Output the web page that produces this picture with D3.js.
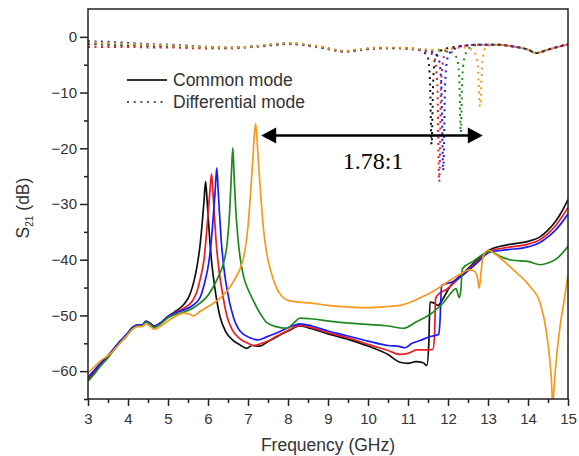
<!DOCTYPE html>
<html lang="en">
<head>
    <meta charset="UTF-8">
    <title>S21 Common / Differential mode</title>
    <script src="https://d3js.org/d3.v7.min.js"></script>
    <style>
        body { margin: 0; background: #fff; }
        text { font-family: "Liberation Sans", Arial, sans-serif; }
    </style>
</head>
<body>
    <svg width="579" height="456"></svg>
    <script type="text/javascript">
        // axis ticks
        var xTicks = [3, 4, 5, 6, 7, 8, 9, 10, 11, 12, 13, 14, 15];
        var yTicks = [0, -10, -20, -30, -40, -50, -60];

        // common mode S21 (solid lines), [GHz, dB]
        var commonBlack = [[3.0,-61.6],[3.15,-60.3],[3.3,-59.0],[3.5,-57.4],[3.65,-56.1],[3.8,-54.8],[3.95,-53.8],[4.1,-52.4],[4.25,-51.8],[4.35,-51.9],[4.45,-51.1],[4.55,-51.4],[4.65,-52.0],[4.8,-51.4],[5.0,-50.2],[5.2,-49.2],[5.4,-48.0],[5.55,-46.2],[5.65,-43.8],[5.73,-41.0],[5.8,-37.5],[5.86,-33.0],[5.9,-29.5],[5.94,-26.0],[5.97,-28.5],[6.01,-33.0],[6.05,-37.0],[6.1,-41.0],[6.18,-45.5],[6.3,-50.2],[6.45,-53.0],[6.63,-54.5],[6.8,-55.3],[6.97,-55.9],[7.1,-55.4],[7.3,-55.5],[7.5,-54.7],[7.7,-53.9],[8.0,-52.8],[8.3,-51.9],[8.6,-52.4],[9.0,-53.3],[9.5,-54.3],[10.0,-55.5],[10.5,-57.0],[10.8,-58.4],[11.0,-58.6],[11.2,-58.3],[11.38,-58.5],[11.47,-59.0],[11.52,-55.0],[11.55,-47.6],[11.63,-47.7],[11.75,-48.2],[11.85,-47.3],[12.05,-44.8],[12.38,-42.4],[12.72,-40.1],[13.05,-38.2],[13.5,-37.3],[14.0,-36.7],[14.3,-35.9],[14.5,-34.7],[14.7,-33.0],[14.85,-31.3],[15.0,-29.2]];
        var commonRed = [[3.0,-61.3],[3.15,-60.0],[3.3,-58.8],[3.5,-57.2],[3.65,-56.0],[3.8,-54.7],[3.95,-53.6],[4.1,-52.3],[4.25,-51.7],[4.35,-51.8],[4.45,-51.1],[4.55,-51.5],[4.65,-52.0],[4.8,-51.5],[5.0,-50.3],[5.2,-49.4],[5.4,-48.7],[5.6,-47.5],[5.72,-45.8],[5.82,-43.0],[5.9,-40.0],[5.96,-35.5],[6.01,-31.0],[6.05,-27.5],[6.09,-24.6],[6.12,-27.5],[6.16,-32.0],[6.2,-36.5],[6.26,-41.0],[6.35,-45.5],[6.47,-50.0],[6.6,-52.5],[6.8,-54.2],[6.97,-54.9],[7.15,-55.4],[7.35,-55.0],[7.5,-54.6],[7.7,-53.8],[8.0,-52.7],[8.3,-51.8],[8.6,-52.2],[9.0,-53.1],[9.5,-54.0],[10.0,-55.2],[10.5,-56.3],[10.8,-57.0],[11.0,-56.8],[11.22,-56.2],[11.45,-56.2],[11.62,-56.1],[11.66,-54.0],[11.69,-47.0],[11.75,-46.3],[11.97,-45.3],[12.38,-42.6],[12.72,-40.4],[13.05,-38.4],[13.5,-37.8],[14.0,-37.2],[14.3,-36.4],[14.5,-35.3],[14.7,-33.8],[14.85,-32.3],[15.0,-30.6]];
        var commonBlue = [[3.0,-61.1],[3.15,-59.9],[3.3,-58.7],[3.5,-57.2],[3.65,-55.9],[3.8,-54.6],[3.95,-53.5],[4.1,-52.2],[4.25,-51.7],[4.35,-51.7],[4.45,-51.0],[4.55,-51.4],[4.65,-51.9],[4.8,-51.4],[5.0,-50.2],[5.2,-49.5],[5.4,-49.0],[5.6,-48.3],[5.8,-46.8],[5.92,-44.0],[6.02,-40.5],[6.09,-36.0],[6.14,-31.5],[6.18,-27.5],[6.22,-23.5],[6.25,-27.0],[6.29,-32.0],[6.33,-36.5],[6.39,-41.0],[6.48,-45.5],[6.63,-50.2],[6.8,-52.8],[7.05,-54.0],[7.25,-54.4],[7.45,-53.9],[7.7,-53.2],[8.0,-52.2],[8.3,-51.5],[8.6,-51.9],[9.0,-52.8],[9.5,-53.7],[10.0,-54.6],[10.5,-55.4],[10.8,-55.6],[10.92,-55.8],[11.1,-55.0],[11.3,-54.5],[11.55,-53.8],[11.77,-53.4],[11.8,-51.0],[11.84,-44.6],[11.95,-44.3],[12.13,-43.9],[12.38,-42.7],[12.72,-40.6],[13.05,-38.6],[13.5,-38.2],[14.0,-37.7],[14.3,-36.9],[14.5,-35.9],[14.7,-34.6],[14.85,-33.3],[15.0,-31.8]];
        var commonGreen = [[3.0,-61.8],[3.15,-60.6],[3.3,-59.2],[3.5,-57.6],[3.65,-56.2],[3.8,-54.9],[3.95,-53.8],[4.1,-52.4],[4.25,-51.9],[4.35,-51.9],[4.45,-51.2],[4.55,-51.6],[4.65,-52.2],[4.8,-51.6],[5.0,-50.4],[5.2,-49.8],[5.4,-49.4],[5.6,-48.8],[5.8,-47.8],[6.0,-46.4],[6.13,-44.9],[6.28,-42.7],[6.4,-40.3],[6.48,-37.0],[6.54,-31.5],[6.58,-25.5],[6.62,-19.9],[6.65,-24.5],[6.69,-30.5],[6.74,-35.5],[6.8,-39.5],[6.9,-43.3],[7.0,-45.3],[7.13,-47.3],[7.3,-49.6],[7.47,-51.3],[7.7,-52.0],[7.97,-52.3],[8.15,-51.3],[8.3,-50.5],[8.55,-50.6],[9.13,-51.1],[9.97,-51.6],[10.5,-51.9],[10.88,-52.3],[11.2,-51.2],[11.63,-49.4],[11.9,-47.6],[12.05,-46.2],[12.2,-45.2],[12.28,-46.8],[12.32,-45.5],[12.36,-41.6],[12.63,-40.3],[12.93,-38.8],[13.05,-38.5],[13.3,-39.4],[13.6,-40.1],[14.0,-40.3],[14.3,-40.9],[14.5,-40.6],[14.7,-39.9],[14.85,-38.9],[15.0,-37.6]];
        var commonOrange = [[3.0,-60.3],[3.15,-59.3],[3.3,-58.2],[3.5,-57.2],[3.65,-56.2],[3.8,-55.0],[3.95,-53.8],[4.1,-52.6],[4.25,-52.0],[4.35,-52.0],[4.45,-51.5],[4.55,-51.9],[4.65,-52.5],[4.8,-52.0],[5.0,-51.0],[5.2,-50.1],[5.4,-49.6],[5.55,-49.8],[5.63,-50.1],[5.8,-49.3],[6.0,-48.4],[6.2,-47.5],[6.4,-46.2],[6.55,-44.9],[6.7,-43.1],[6.82,-41.3],[6.92,-38.5],[7.0,-34.0],[7.06,-28.5],[7.12,-22.0],[7.16,-17.5],[7.19,-15.6],[7.22,-17.8],[7.26,-22.5],[7.32,-28.5],[7.38,-34.0],[7.46,-38.5],[7.58,-42.3],[7.72,-45.2],[7.85,-46.6],[8.05,-47.4],[8.3,-47.6],[8.6,-47.8],[9.0,-48.2],[9.55,-48.5],[10.0,-48.6],[10.5,-48.4],[10.8,-48.2],[11.1,-47.5],[11.4,-46.5],[11.6,-45.8],[12.05,-43.7],[12.3,-42.6],[12.55,-41.8],[12.68,-42.2],[12.74,-43.4],[12.78,-45.1],[12.82,-42.8],[12.87,-39.6],[13.0,-38.3],[13.2,-39.1],[13.63,-41.8],[14.05,-44.8],[14.3,-47.7],[14.45,-52.5],[14.53,-57.0],[14.58,-61.0],[14.62,-66.0],[14.66,-62.0],[14.72,-57.0],[14.8,-52.0],[14.9,-47.5],[15.0,-42.7]];

        // differential mode S21 (dotted lines), [GHz, dB]
        var diffBlack = [[3.0,-1.3],[3.5,-1.4],[4.0,-1.5],[4.5,-1.6],[5.0,-1.7],[5.5,-1.8],[6.0,-1.9],[6.5,-2.0],[7.0,-1.8],[7.5,-1.5],[8.0,-1.2],[8.5,-1.5],[9.0,-2.1],[9.4,-2.6],[9.8,-2.3],[10.3,-2.0],[10.8,-2.0],[11.2,-2.2],[11.4,-2.8],[11.5,-3.8],[11.55,-8.0],[11.59,-19.3],[11.63,-8.0],[11.68,-3.8],[11.8,-2.6],[12.0,-2.0],[12.4,-1.6],[12.8,-1.4],[13.2,-1.4],[13.6,-1.7],[14.0,-2.3],[14.2,-2.9],[14.5,-2.3],[14.8,-1.7],[15.0,-1.3]];
        var diffRed = [[3.0,-1.8],[3.5,-1.8],[4.0,-1.8],[4.5,-1.9],[5.0,-1.9],[5.5,-2.0],[6.0,-2.1],[6.5,-2.1],[7.0,-1.9],[7.5,-1.6],[8.0,-1.3],[8.5,-1.6],[9.0,-2.2],[9.4,-2.7],[9.8,-2.4],[10.3,-2.1],[10.8,-2.1],[11.2,-2.3],[11.5,-2.7],[11.65,-3.6],[11.73,-8.0],[11.78,-26.0],[11.83,-8.0],[11.9,-3.5],[12.05,-2.3],[12.4,-1.6],[12.8,-1.4],[13.2,-1.4],[13.6,-1.7],[14.0,-2.3],[14.2,-2.9],[14.5,-2.3],[14.8,-1.7],[15.0,-1.4]];
        var diffBlue = [[3.0,-0.8],[3.5,-0.9],[4.0,-1.1],[4.5,-1.3],[5.0,-1.4],[5.5,-1.6],[6.0,-1.8],[6.5,-1.9],[7.0,-1.8],[7.5,-1.5],[8.0,-1.2],[8.5,-1.5],[9.0,-2.1],[9.4,-2.6],[9.8,-2.3],[10.3,-2.0],[10.8,-2.0],[11.2,-2.2],[11.5,-2.5],[11.75,-3.5],[11.83,-8.0],[11.88,-24.0],[11.93,-8.0],[12.0,-3.5],[12.15,-2.2],[12.4,-1.6],[12.8,-1.4],[13.2,-1.4],[13.6,-1.7],[14.0,-2.3],[14.2,-2.9],[14.5,-2.3],[14.8,-1.7],[15.0,-1.3]];
        var diffGreen = [[3.0,-1.2],[3.5,-1.3],[4.0,-1.4],[4.5,-1.5],[5.0,-1.6],[5.5,-1.8],[6.0,-1.9],[6.5,-2.0],[7.0,-1.8],[7.5,-1.5],[8.0,-1.2],[8.5,-1.5],[9.0,-2.1],[9.4,-2.6],[9.8,-2.3],[10.3,-2.0],[10.8,-2.0],[11.2,-2.2],[11.6,-2.4],[11.9,-2.5],[12.1,-2.8],[12.22,-3.8],[12.28,-7.0],[12.32,-17.2],[12.36,-7.0],[12.42,-3.5],[12.55,-1.9],[12.8,-1.4],[13.2,-1.4],[13.6,-1.7],[14.0,-2.3],[14.2,-2.9],[14.5,-2.3],[14.8,-1.7],[15.0,-1.3]];
        var diffOrange = [[3.0,-1.0],[3.5,-1.1],[4.0,-1.3],[4.5,-1.4],[5.0,-1.5],[5.5,-1.7],[6.0,-1.8],[6.5,-1.9],[7.0,-1.8],[7.5,-1.4],[8.0,-1.1],[8.5,-1.4],[9.0,-2.0],[9.4,-2.5],[9.8,-2.2],[10.3,-1.9],[10.8,-1.9],[11.2,-2.1],[11.6,-2.3],[12.0,-2.2],[12.4,-1.9],[12.62,-2.4],[12.74,-4.5],[12.8,-12.5],[12.86,-4.5],[12.95,-1.8],[13.2,-1.4],[13.6,-1.7],[14.0,-2.3],[14.2,-2.9],[14.5,-2.3],[14.8,-1.7],[15.0,-1.3]];

        // resonance ratio annotation: arrow ends [GHz], arrow level [dB]
        var arrowSpan = [7.33, 12.87];
        var arrowLevel = -17.7;
        var ratioLabel = "1.78:1";

        var series = [
            {common: commonBlack, diff: diffBlack, color: "#111111"},
            {common: commonRed, diff: diffRed, color: "#ee1c25"},
            {common: commonBlue, diff: diffBlue, color: "#1a1aff"},
            {common: commonGreen, diff: diffGreen, color: "#1e8a1e"},
            {common: commonOrange, diff: diffOrange, color: "#f7981f"}
        ];

        var margin = {top: 9, right: 11, bottom: 57, left: 88},
            width = 579 - margin.left - margin.right,
            height = 456 - margin.top - margin.bottom;

        var x = d3.scaleLinear().domain([3, 15]).range([0, width]);
        var y = d3.scaleLinear().domain([-65, 5]).range([height, 0]);

        var svg = d3.select("svg")
                    .append("g")
                    .attr("transform", "translate(" + margin.left + "," + margin.top + ")");

        svg.append("clipPath").attr("id", "plotClip")
           .append("rect").attr("width", width).attr("height", height);

        var line = d3.line()
                     .x(function(d) { return x(d[0]); })
                     .y(function(d) { return y(d[1]); })
                     .curve(d3.curveMonotoneX);

        var plot = svg.append("g").attr("clip-path", "url(#plotClip)");

        // dotted differential curves
        series.forEach(function(s) {
            plot.append("path")
                .attr("d", line(s.diff))
                .attr("fill", "none")
                .attr("stroke", s.color)
                .attr("stroke-width", 2)
                .attr("stroke-dasharray", "2,4.5");
        });

        // solid common curves
        series.forEach(function(s) {
            plot.append("path")
                .attr("d", line(s.common))
                .attr("fill", "none")
                .attr("stroke", s.color)
                .attr("stroke-width", 1.7)
                .attr("stroke-linejoin", "round");
        });

        // axes
        var xAxis = svg.append("g")
           .attr("transform", "translate(0," + height + ")")
           .call(d3.axisBottom(x).tickValues(xTicks).tickSize(7).tickPadding(7).tickFormat(d3.format("d")));
        svg.append("g")
           .attr("transform", "translate(0," + height + ")")
           .call(d3.axisBottom(x).tickValues(d3.range(3.5, 15, 1)).tickSize(4).tickFormat(""));

        var yAxis = svg.append("g")
           .call(d3.axisLeft(y).tickValues(yTicks).tickSize(8).tickPadding(3).tickFormat(d3.format("d")));
        svg.append("g")
           .call(d3.axisLeft(y).tickValues(d3.range(-65, 5, 10)).tickSize(4).tickFormat(""));

        svg.selectAll(".domain").remove();
        svg.selectAll(".tick line").attr("stroke", "#222").attr("stroke-width", 1.5);
        svg.selectAll(".tick text").attr("font-size", "15px").attr("fill", "#333")
           .style("font-family", "'Liberation Sans', Arial, sans-serif");

        // frame
        svg.append("rect")
           .attr("width", width).attr("height", height)
           .attr("fill", "none").attr("stroke", "#222").attr("stroke-width", 1.5);

        // axis titles
        svg.append("text")
           .attr("x", width / 2).attr("y", height + 52)
           .attr("text-anchor", "middle")
           .attr("font-size", "17.5px").attr("fill", "#333")
           .text("Frequency (GHz)");

        var yTitle = svg.append("text")
           .attr("transform", "translate(" + (29 - margin.left) + "," + 199 + ") rotate(-90)")
           .attr("text-anchor", "middle")
           .attr("font-size", "17.5px").attr("fill", "#333");
        yTitle.append("tspan").text("S");
        yTitle.append("tspan").attr("dy", 4).attr("font-size", "10px").text("21");
        yTitle.append("tspan").attr("dy", -4).text(" (dB)");

        // legend
        var legend = svg.append("g").attr("transform", "translate(" + (127 - margin.left) + "," + (80 - margin.top) + ")");
        legend.append("line").attr("x1", 0).attr("x2", 40).attr("y1", 0).attr("y2", 0)
              .attr("stroke", "#333").attr("stroke-width", 1.8);
        legend.append("line").attr("x1", 0).attr("x2", 40).attr("y1", 22).attr("y2", 22)
              .attr("stroke", "#555").attr("stroke-width", 2).attr("stroke-dasharray", "2,4.7");
        legend.append("text").attr("x", 46).attr("y", 0).attr("dy", "0.35em")
              .attr("font-size", "17.5px").attr("fill", "#333").text("Common mode");
        legend.append("text").attr("x", 46).attr("y", 22).attr("dy", "0.35em")
              .attr("font-size", "17.5px").attr("fill", "#333").text("Differential mode");

        // ratio arrow
        var ax0 = x(arrowSpan[0]), ax1 = x(arrowSpan[1]), ay = y(arrowLevel);
        var headLen = 15, headHalf = 8;
        svg.append("line")
           .attr("x1", ax0 + headLen - 2).attr("x2", ax1 - headLen + 2)
           .attr("y1", ay).attr("y2", ay)
           .attr("stroke", "#000").attr("stroke-width", 2.6);
        svg.append("path")
           .attr("d", "M" + ax0 + "," + ay + "L" + (ax0 + headLen) + "," + (ay - headHalf) + "L" + (ax0 + headLen) + "," + (ay + headHalf) + "Z")
           .attr("fill", "#000");
        svg.append("path")
           .attr("d", "M" + ax1 + "," + ay + "L" + (ax1 - headLen) + "," + (ay - headHalf) + "L" + (ax1 - headLen) + "," + (ay + headHalf) + "Z")
           .attr("fill", "#000");
        svg.append("text")
           .attr("x", (ax0 + ax1) / 2 + 1).attr("y", ay + 34)
           .attr("text-anchor", "middle")
           .attr("font-size", "24px")
           .style("font-family", "'Liberation Serif', 'Times New Roman', serif")
           .attr("fill", "#000")
           .text(ratioLabel);
    </script>
</body>
</html>
